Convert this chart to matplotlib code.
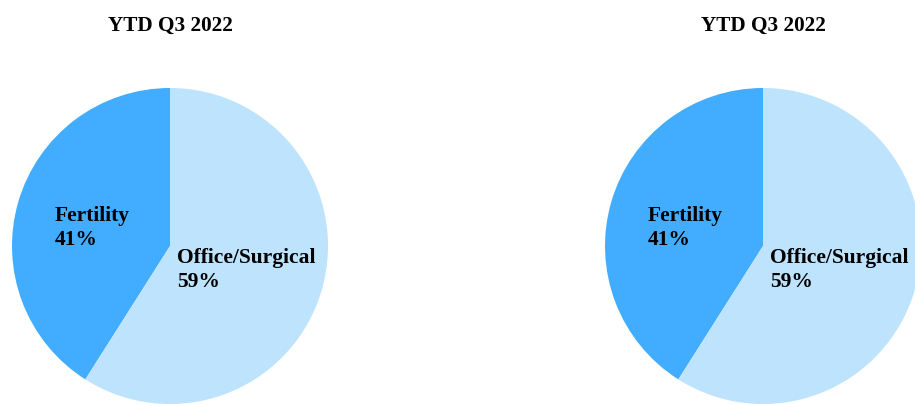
import matplotlib
matplotlib.use("Agg")
import matplotlib.pyplot as plt

titles = ["YTD Q3 2022", "YTD Q3 2022"]
categories = ["Fertility", "Office/Surgical"]
values_left = [41, 59]
values_right = [41, 59]
colors = ["#42ADFF", "#BEE3FD"]

W, H = 915, 404
fig = plt.figure(figsize=(W / 100, H / 100), dpi=100)
ax = fig.add_axes([0, 0, 1, 1])
font = ["Liberation Serif", "DejaVu Serif"]

centers = [(170, H - 246), (763, H - 246)]
radius = 158
for (cx, cy), vals, title in zip(centers, [values_left, values_right], titles):
    ax.pie(vals, colors=colors, startangle=90, counterclock=True,
           center=(cx, cy), radius=radius, frame=True,
           wedgeprops=dict(linewidth=0))
    ax.text(cx, H - 26, title, ha="center", va="center", fontsize=15.3,
            fontweight="bold", family=font)
    ax.text(cx - 115, cy + 18, f"{categories[0]}\n{vals[0]}%", ha="left", va="center",
            fontsize=15.5, fontweight="bold", family=font, linespacing=1.3)
    ax.text(cx + 7, cy - 24, f"{categories[1]}\n{vals[1]}%", ha="left", va="center",
            fontsize=15.5, fontweight="bold", family=font, linespacing=1.3)

ax.set_xlim(0, W)
ax.set_ylim(0, H)
ax.set_aspect("auto")
ax.axis("off")
fig.savefig("out.png", dpi=100)
